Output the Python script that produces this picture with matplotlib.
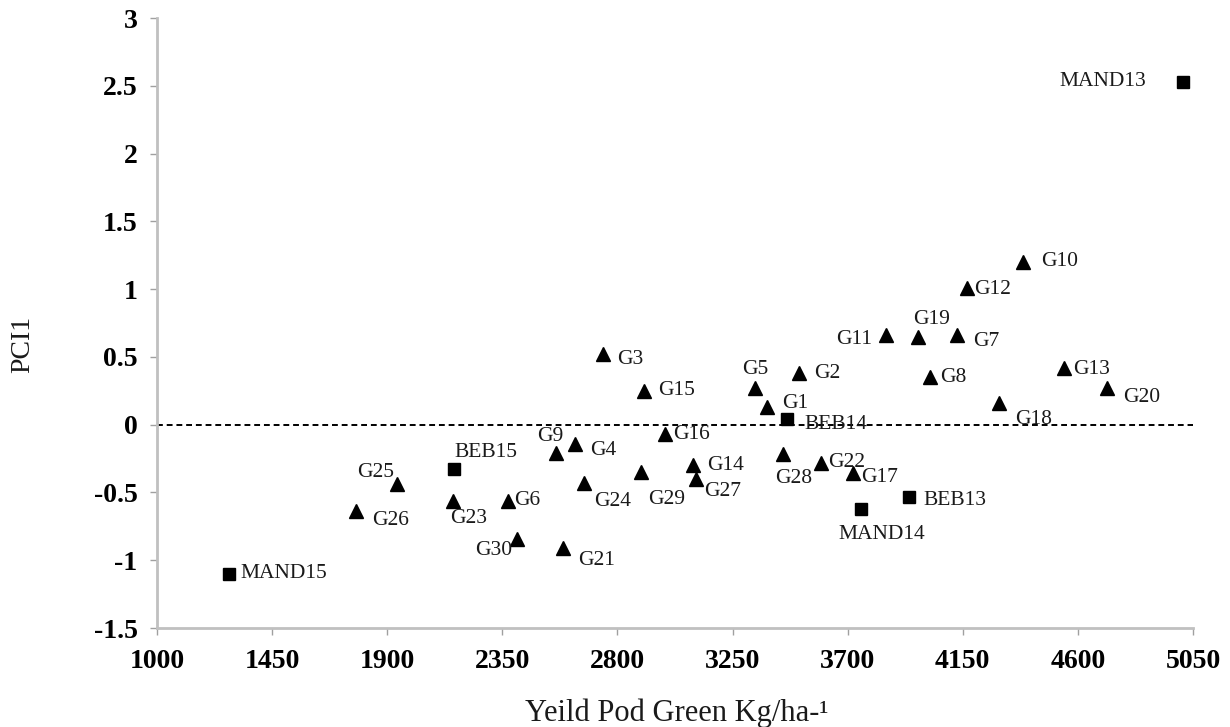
import matplotlib
matplotlib.use("Agg")
import matplotlib.pyplot as plt

plt.rcParams['font.family'] = ['Liberation Serif', 'DejaVu Serif']

# Data: genotypes (triangles) and environments (squares)
g_names = ["G1", "G2", "G3", "G4", "G5", "G6", "G7", "G8", "G9", "G10",
           "G11", "G12", "G13", "G14", "G15", "G16", "G17", "G18", "G19", "G20",
           "G21", "G22", "G23", "G24", "G25", "G26", "G27", "G28", "G29", "G30"]
g_yield = [3386, 3511, 2745, 2635, 3339, 2373, 4126, 4020, 2561, 4384,
           3848, 4165, 4544, 3097, 2905, 2987, 3719, 4290, 3973, 4713,
           2588, 3594, 2158, 2670, 1939, 1778, 3109, 3449, 2893, 2408]
g_pci1 = [0.13, 0.38, 0.52, -0.14, 0.27, -0.56, 0.66, 0.35, -0.21, 1.20,
          0.66, 1.01, 0.42, -0.30, 0.25, -0.07, -0.36, 0.16, 0.65, 0.27,
          -0.91, -0.28, -0.56, -0.43, -0.44, -0.64, -0.40, -0.22, -0.35, -0.84]

e_names = ["MAND13", "MAND14", "MAND15", "BEB13", "BEB14", "BEB15"]
e_yield = [5010, 3754, 1282, 3938, 3461, 2162]
e_pci1 = [2.53, -0.62, -1.10, -0.53, 0.04, -0.33]

x_ticks = [1000, 1450, 1900, 2350, 2800, 3250, 3700, 4150, 4600, 5050]
y_ticks = [-1.5, -1, -0.5, 0, 0.5, 1, 1.5, 2, 2.5, 3]
y_tick_labels = ["-1.5", "-1", "-0.5", "0", "0.5", "1", "1.5", "2", "2.5", "3"]

# label placement (pixel offsets dx, dy-down, horizontal alignment)
label_pos = {
    "G1": (15, -4, "left"), "G2": (15, 0, "left"), "G3": (14, 5, "left"),
    "G4": (15, 7, "left"), "G5": (0, -19, "center"), "G6": (6, 0, "left"),
    "G7": (16, 6, "left"), "G8": (11, 0, "left"), "G9": (-6, -17, "center"),
    "G10": (18, 0, "left"), "G11": (-13, 4, "right"), "G12": (8, 2, "left"),
    "G13": (10, 2, "left"), "G14": (14, 0, "left"), "G15": (14, 0, "left"),
    "G16": (8, 0, "left"), "G17": (9, 4, "left"), "G18": (17, 17, "left"),
    "G19": (14, -17, "center"), "G20": (16, 9, "left"), "G21": (15, 12, "left"),
    "G22": (8, 0, "left"), "G23": (15, 18, "center"), "G24": (10, 19, "left"),
    "G25": (-3, -12, "right"), "G26": (16, 9, "left"), "G27": (8, 13, "left"),
    "G28": (10, 24, "center"), "G29": (25, 27, "center"), "G30": (-5, 12, "right"),
    "MAND13": (-37, 0, "right"), "MAND14": (20, 26, "center"),
    "MAND15": (11, 0, "left"), "BEB13": (15, 4, "left"),
    "BEB14": (18, 5, "left"), "BEB15": (32, -17, "center"),
}

fig = plt.figure(figsize=(12.3, 7.27), dpi=100)
ax = fig.add_axes([157/1230, 1 - 628/727, (1193-157)/1230, (628-18)/727])

ax.axhline(0, color='black', linestyle=(0, (3, 2)), linewidth=1.4, zorder=1)

ax.plot(g_yield, g_pci1, linestyle='none', marker='^', markersize=10,
        color='black', zorder=3)
ax.plot(e_yield, e_pci1, linestyle='none', marker='s', markersize=9,
        color='black', zorder=3)

px2pt = 72 / 100
for names, xs, ys in ((g_names, g_yield, g_pci1), (e_names, e_yield, e_pci1)):
    for n, xv, yv in zip(names, xs, ys):
        dx, dy, ha = label_pos[n]
        ax.annotate(n, (xv, yv), xytext=(dx * px2pt, -dy * px2pt),
                    textcoords='offset points', ha=ha, va='center',
                    fontsize=15.5, color='#1a1a1a', zorder=4)

ax.set_xlim(1000, 5050)
ax.set_ylim(-1.5, 3)
ax.set_xticks(x_ticks)
ax.set_xticklabels([str(v) for v in x_ticks])
ax.set_yticks(y_ticks)
ax.set_yticklabels(y_tick_labels)

for s in ('top', 'right'):
    ax.spines[s].set_visible(False)
for s in ('left', 'bottom'):
    ax.spines[s].set_color('#c0c0c0')
    ax.spines[s].set_linewidth(2)

ax.tick_params(axis='both', direction='out', length=5, width=1, color='#a0a0a0',
               labelsize=20)
ax.tick_params(axis='x', pad=10)
ax.tick_params(axis='y', pad=9)
for lab in ax.get_xticklabels() + ax.get_yticklabels():
    lab.set_fontweight('bold')

ax.set_xlabel("Yeild Pod Green Kg/ha-\u00b9", fontsize=22, color='#1a1a1a')
ax.set_ylabel("PCI1", fontsize=20, color='#1a1a1a')
ax.xaxis.set_label_coords((677 - 157) / 1036, -(698 - 628) / 610)
ax.yaxis.set_label_coords(-(157 - 35) / 1036, (628 - 344) / 610)

fig.savefig("out.png", dpi=100)
